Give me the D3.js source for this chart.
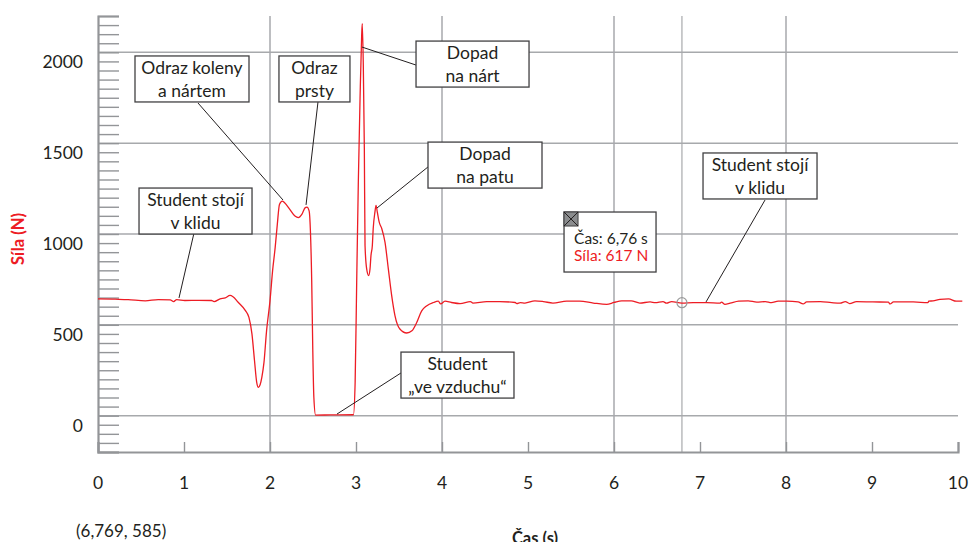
<!DOCTYPE html>
<html><head><meta charset="utf-8">
<script src="https://cdn.jsdelivr.net/npm/d3@7"></script>
<style>
html,body{margin:0;padding:0;background:#fff;}
svg{display:block;font-family:Lato,"Noto Sans",sans-serif;}
</style></head>
<body><svg id="c" width="969" height="542"></svg>
<script>
// ---- data ----
const timeS = [0,0.2,0.35,0.55,0.7,0.84,0.88,0.915,1.01,1.17,1.32,1.35,1.42,1.48,1.535,1.57,1.63,1.71,1.755,1.79,1.82,1.845,1.865,1.885,1.905,1.93,1.96,2.0,2.03,2.06,2.085,2.11,2.143,2.17,2.23,2.29,2.33,2.37,2.41,2.43,2.455,2.47,2.485,2.497,2.51,2.53,2.7,2.97,2.99,3.008,3.027,3.047,3.066,3.073,3.085,3.097,3.105,3.124,3.147,3.163,3.174,3.19,3.2,3.22,3.233,3.248,3.27,3.3,3.337,3.376,3.415,3.453,3.51,3.59,3.65,3.706,3.764,3.82,3.9,3.957,3.985,4.035,4.11,4.21,4.33,4.36,4.52,4.67,4.85,4.87,4.91,4.965,5.08,5.18,5.29,5.45,5.6,5.76,5.915,6.0,6.09,6.2,6.3,6.42,6.48,6.57,6.61,6.67,6.79,6.92,7.08,7.23,7.25,7.29,7.35,7.45,7.56,7.66,7.76,7.83,7.91,8.01,8.14,8.2,8.24,8.4,8.53,8.63,8.69,8.74,8.82,9.01,9.19,9.21,9.25,9.48,9.65,9.66,9.71,9.79,9.89,9.98,10.05];
const forceN = [643,641,639,632,639,637,628,639,634,635,634,628,643,648,662,655,624,581,541,450,302,185,156,170,211,293,467,632,797,925,1053,1163,1181,1172,1136,1099,1090,1108,1145,1148,1127,1016,742,375,101,3,4,5,184,734,1285,1745,2094,2158,1928,1469,937,808,771,808,881,937,1029,1120,1157,1120,1065,1029,955,808,661,551,477,455,467,513,577,604,623,630,615,630,623,617,628,620,628,628,623,617,622,620,632,628,620,630,630,620,613,623,632,632,620,626,622,628,619,628,620,622,622,619,625,613,619,630,632,625,628,622,630,630,626,615,626,628,622,619,628,617,628,626,625,615,626,626,622,630,632,640,643,630,630];

const xTicks = [0,1,2,3,4,5,6,7,8,9,10];
const xGrid = [2,4,6,8];
const yTickLabels = [0,500,1000,1500,2000];

// annotation texts and anchors (data units)
const annLines = [["Odraz koleny","a nártem"],["Odraz","prsty"],["Student stojí","v klidu"],["Dopad","na nárt"],["Dopad","na patu"],["Student","„ve vzduchu“"],["Student stojí","v klidu"]];
const annBoxT = [1.093,2.517,1.134,4.355,4.5,4.18,7.698];
const annBoxF = [1980,1980,1253,2062,1506,350,1446];
const annBoxW = [114,71,113,113,114,113,114];
const annFromT = [1.163,2.558,1.116,3.698,3.837,3.523,7.756];
const annFromF = [1721,1727,1005,1930,1369,235,1187];
const annToT = [2.151,2.419,0.942,3.07,3.244,2.779,7.07];
const annToF = [1187,1160,648,2029,1143,9,626];

const cursorT = 6.79, cursorF = 622;
const tipT = 5.419, tipF = 1121;
const tipLines = ["Čas: 6,76 s","Síla: 617 N"];
const coordText = "(6,769, 585)";

// ---- chart ----
const svg = d3.select("#c");
const x = d3.scaleLinear().domain([0,10]).range([98,958]);
const y = d3.scaleLinear().domain([-200,2200]).range([452,16]);
const gridCol = "#a7a9ac", axisCol = "#939598", red = "#ed1c24", ink = "#231f20";

// horizontal grid
svg.append("g").selectAll("line").data(yTickLabels).join("line")
  .attr("x1",x(0)).attr("x2",x(10)).attr("y1",d=>y(d)).attr("y2",d=>y(d))
  .attr("stroke",gridCol).attr("stroke-width",1.5);
// vertical grid
svg.append("g").selectAll("line").data(xGrid).join("line")
  .attr("x1",d=>x(d)).attr("x2",d=>x(d)).attr("y1",y(2200)).attr("y2",y(-200))
  .attr("stroke",gridCol).attr("stroke-width",1.5);
// cursor line
svg.append("line").attr("x1",x(cursorT)).attr("x2",x(cursorT)).attr("y1",y(2200)).attr("y2",y(-200))
  .attr("stroke",gridCol).attr("stroke-width",1.2);

// y axis (minor ticks inside)
const yAxis = d3.axisRight(y).tickValues(d3.range(-200,2201,50)).tickSize(21).tickFormat("");
const gy = svg.append("g").attr("transform",`translate(${x(0)},0)`).call(yAxis);
gy.select(".domain").attr("stroke",axisCol).attr("stroke-width",2.2);
gy.selectAll(".tick line").attr("stroke",axisCol).attr("stroke-width",1.4);
svg.append("g").selectAll("text").data(yTickLabels).join("text")
  .attr("x",83).attr("y",d=>y(d)+16).attr("text-anchor","end")
  .attr("font-size",17.5).attr("fill",ink).text(d=>d);

// x axis
const xAxis = d3.axisTop(x).tickValues(xTicks).tickSize(10).tickFormat("");
const gx = svg.append("g").attr("transform",`translate(0,${y(-200)})`).call(xAxis);
gx.select(".domain").attr("stroke",axisCol).attr("stroke-width",2.2);
gx.selectAll(".tick line").attr("stroke",axisCol).attr("stroke-width",1.4);
svg.append("g").selectAll("text").data(xTicks).join("text")
  .attr("x",d=>x(d)).attr("y",489).attr("text-anchor","middle")
  .attr("font-size",17.5).attr("fill",ink).text(d=>d);

// axis titles
svg.append("text").attr("transform","translate(24,239) rotate(-90)").attr("text-anchor","middle")
  .attr("font-size",16.5).attr("font-weight","bold").attr("fill",red).text("Síla (N)");
svg.append("text").attr("x",535).attr("y",544).attr("text-anchor","middle")
  .attr("font-size",16.5).attr("font-weight","bold").attr("fill",ink).text("Čas (s)");
svg.append("text").attr("x",76).attr("y",537)
  .attr("font-size",17).attr("fill",ink).text(coordText);

// line
const pts = timeS.map((t,i)=>[t,forceN[i]]);
svg.append("path").datum(pts)
  .attr("d",d3.line().x(d=>x(d[0])).y(d=>y(d[1])).curve(d3.curveMonotoneX))
  .attr("fill","none").attr("stroke",red).attr("stroke-width",1.3);

// cursor circle
svg.append("circle").attr("cx",x(cursorT)).attr("cy",y(cursorF)).attr("r",5)
  .attr("fill","none").attr("stroke","#9a9a9a").attr("stroke-width",1.2);

// annotations
const ann = svg.append("g");
annLines.forEach((lines,i)=>{
  ann.append("line").attr("x1",x(annFromT[i])).attr("y1",y(annFromF[i]))
    .attr("x2",x(annToT[i])).attr("y2",y(annToF[i]))
    .attr("stroke",ink).attr("stroke-width",1);
  const cx = x(annBoxT[i]), top = y(annBoxF[i]), w = annBoxW[i];
  ann.append("rect").attr("x",cx-w/2).attr("y",top).attr("width",w).attr("height",46)
    .attr("fill","#fff").attr("stroke","#414042").attr("stroke-width",1.3);
  lines.forEach((s,j)=>{
    ann.append("text").attr("x",cx).attr("y",top+18+j*23).attr("text-anchor","middle")
      .attr("font-size",17.5).attr("fill",ink).text(s);
  });
});

// tooltip
const tx = x(tipT), ty = y(tipF);
svg.append("rect").attr("x",tx).attr("y",ty).attr("width",92).attr("height",60)
  .attr("fill","#fff").attr("stroke","#414042").attr("stroke-width",1.3);
svg.append("rect").attr("x",tx).attr("y",ty).attr("width",14).attr("height",14)
  .attr("fill","#8a8c8e").attr("stroke","#414042").attr("stroke-width",1);
svg.append("path").attr("d",`M${tx},${ty}L${tx+14},${ty+14}M${tx+14},${ty}L${tx},${ty+14}`)
  .attr("stroke","#231f20").attr("stroke-width",1);
svg.append("text").attr("x",tx+10).attr("y",ty+32).attr("font-size",15.5).attr("fill",ink).text(tipLines[0]);
svg.append("text").attr("x",tx+10).attr("y",ty+49).attr("font-size",15.5).attr("fill",red).text(tipLines[1]);
</script></body></html>
